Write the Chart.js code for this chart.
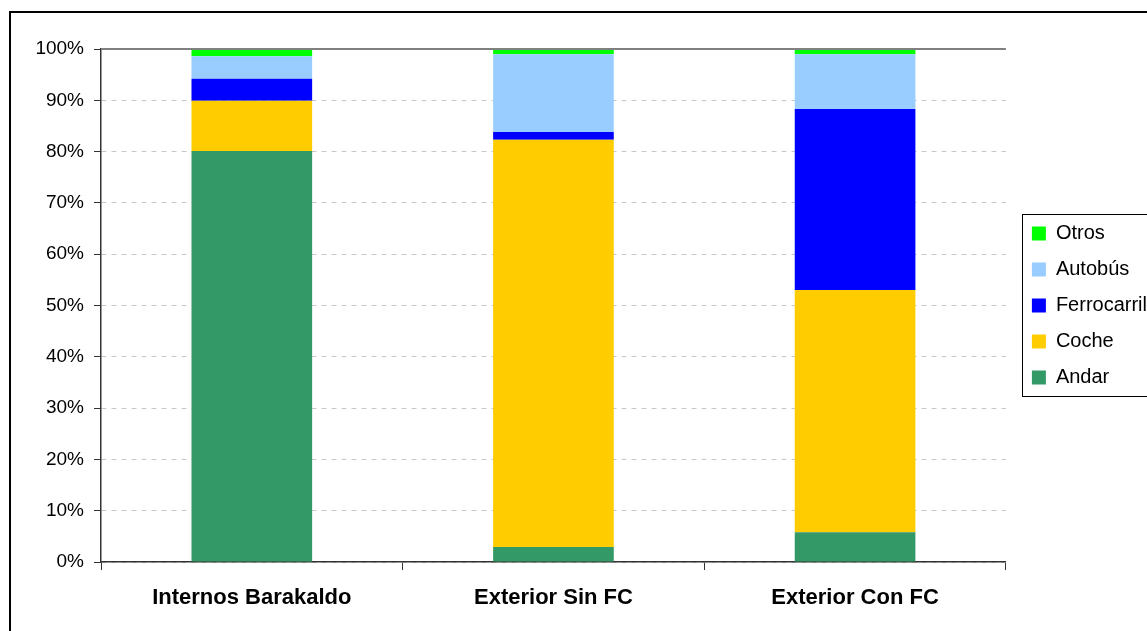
<!DOCTYPE html>
<html>
<head>
<meta charset="utf-8">
<script src="https://cdn.jsdelivr.net/npm/chart.js@4/dist/chart.umd.min.js"></script>
<style>
  html, body { margin: 0; padding: 0; background: #fff; }
  #wrap { position: relative; width: 1147px; height: 631px; }
</style>
</head>
<body>
<div id="wrap"><canvas id="modos" width="1147" height="631"></canvas></div>
<script>
var zonas = ["Internos Barakaldo", "Exterior Sin FC", "Exterior Con FC"];
var andar = [80.1, 2.9, 5.8];
var coche = [9.8, 79.4, 47.2];
var ferrocarril = [4.3, 1.5, 35.3];
var autobus = [4.4, 15.2, 10.7];
var otros = [1.4, 1.0, 1.0];
var pasoEje = 10;

var fuente = "'Liberation Sans', Arial, sans-serif";

// marco exterior, linea superior del area y caja de la leyenda
var marcos = {
    id: 'marcos',
    beforeDraw: function (chart) {
        var c = chart.ctx;
        c.save();
        c.fillStyle = '#fff';
        c.fillRect(0, 0, chart.width, chart.height);
        c.restore();
    },
    afterLayout: function (chart) {
        // leyenda centrada respecto al area de trazado y pegada al borde derecho
        var ley = chart.legend;
        var a = chart.chartArea;
        ley.top = a.top;
        ley.bottom = a.bottom;
        ley.height = a.bottom - a.top;
        ley.left += 10;
        ley.right += 10;
    },
    afterDatasetsDraw: function (chart) {
        var c = chart.ctx;
        var a = chart.chartArea;
        var y = Math.round(chart.scales.y.getPixelForValue(100));
        c.save();
        c.strokeStyle = '#808080';
        c.lineWidth = 2;
        c.beginPath();
        c.moveTo(a.left, y);
        c.lineTo(a.right, y);
        c.stroke();
        c.restore();
    },
    afterDraw: function (chart) {
        var c = chart.ctx;
        c.save();
        c.strokeStyle = '#000';
        c.lineWidth = 2;
        c.strokeRect(10, 12, chart.width + 20, chart.height + 20);
        var cajas = chart.legend.legendHitBoxes;
        if (cajas && cajas.length) {
            var primero = cajas[0], ultimo = cajas[cajas.length - 1];
            var arriba = primero.top + primero.height / 2 - 20;
            var abajo = ultimo.top + ultimo.height / 2 + 18;
            c.lineWidth = 1;
            c.strokeRect(Math.round(primero.left) - 9.5, Math.round(arriba) + 0.5, 200, Math.round(abajo - arriba));
        }
        c.restore();
    }
};

var grafico = new Chart(document.getElementById('modos'), {
    type: 'bar',
    data: {
        labels: zonas,
        datasets: [
            { label: 'Andar', data: andar, backgroundColor: '#339966' },
            { label: 'Coche', data: coche, backgroundColor: '#FFCC00' },
            { label: 'Ferrocarril', data: ferrocarril, backgroundColor: '#0000FF' },
            { label: 'Autobús', data: autobus, backgroundColor: '#99CCFF' },
            { label: 'Otros', data: otros, backgroundColor: '#00FF00' }
        ]
    },
    plugins: [marcos],
    options: {
        responsive: false,
        animation: false,
        layout: { padding: { left: 10, top: 49, right: 0, bottom: 0 } },
        datasets: { bar: { barPercentage: 0.4, categoryPercentage: 1.0 } },
        plugins: {
            tooltip: { enabled: false },
            legend: {
                position: 'right',
                reverse: true,
                labels: {
                    color: '#000',
                    font: { family: fuente, size: 20 },
                    boxWidth: 14,
                    boxHeight: 14,
                    padding: 16
                }
            }
        },
        scales: {
            x: {
                stacked: true,
                afterFit: function (s) { s.height = 69; },
                border: { color: '#333', width: 1.5 },
                grid: { drawOnChartArea: false, tickLength: 8, color: '#333' },
                ticks: { color: '#000', padding: 15, font: { family: fuente, size: 22, weight: 'bold' } }
            },
            y: {
                stacked: true,
                min: 0,
                max: 100,
                afterFit: function (s) { s.width = 91; },
                border: { color: '#333', width: 1.5, dash: [5, 5] },
                grid: {
                    color: function (ctx) { return ctx.tick && ctx.tick.value === 100 ? 'rgba(0,0,0,0)' : '#c8c8c8'; },
                    tickColor: '#333',
                    tickLength: 7,
                    tickBorderDash: []
                },
                ticks: {
                    stepSize: pasoEje,
                    color: '#000',
                    padding: 10,
                    font: { family: fuente, size: 19 },
                    callback: function (v) { return v + '%'; }
                }
            }
        }
    }
});
</script>
</body>
</html>
